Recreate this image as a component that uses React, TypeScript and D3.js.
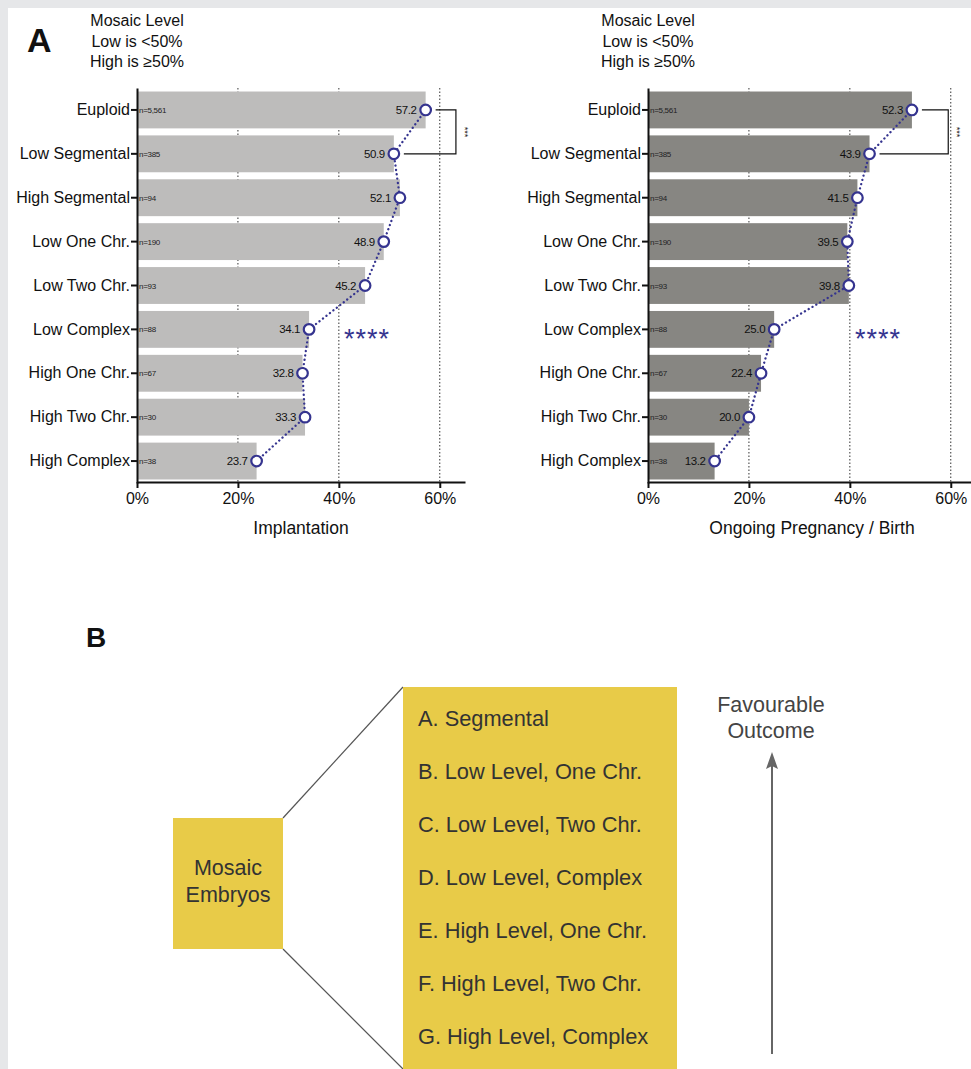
import React from "react";
import { axisBottom, axisLeft, line, scaleBand, scaleLinear, scalePoint, select } from "d3";

const categories = [
	"Euploid",
	"Low Segmental",
	"High Segmental",
	"Low One Chr.",
	"Low Two Chr.",
	"Low Complex",
	"High One Chr.",
	"High Two Chr.",
	"High Complex"
];
const sampleSizes = ["n=5,561", "n=385", "n=94", "n=190", "n=93", "n=88", "n=67", "n=30", "n=38"];
const implantation = [57.2, 50.9, 52.1, 48.9, 45.2, 34.1, 32.8, 33.3, 23.7];
const ongoingPregnancy = [52.3, 43.9, 41.5, 39.5, 39.8, 25.0, 22.4, 20.0, 13.2];
const percentTicks = [0, 20, 40, 60];
const headerLines = ["Mosaic Level", "Low is <50%", "High is \u226550%"];
const outcomeLevels = [
	"A. Segmental",
	"B. Low Level, One Chr.",
	"C. Low Level, Two Chr.",
	"D. Low Level, Complex",
	"E. High Level, One Chr.",
	"F. High Level, Two Chr.",
	"G. High Level, Complex"
];
const embryoLines = ["Mosaic", "Embryos"];
const favourLines = ["Favourable", "Outcome"];

const FONT = "'Liberation Sans', Arial, Helvetica, sans-serif";
const BLUE = "#35348f";
const YELLOW = "#e8cb48";

class MosaicFigure extends React.Component {
	svgRef = React.createRef<SVGSVGElement>();
	width = 971;
	height = 1069;

	componentDidMount() {
		this.drawChart();
	}

	drawPanel(svg: any, values: number[], left: number, fill: string, title: string, bracketAt: number) {
		const x = scaleLinear().domain([0, 65]).range([left, left + 328]);
		const y = scaleBand<string>()
			.domain(categories)
			.range([88, 483])
			.paddingInner(0.16)
			.paddingOuter(0.08);
		const cy = (c: string) => (y(c) as number) + y.bandwidth() / 2;
		const g = svg.append("g").attr("font-family", FONT);

		//header
		g.append("text")
			.attr("x", left)
			.attr("y", 26)
			.attr("text-anchor", "middle")
			.attr("font-size", 16)
			.attr("fill", "#111")
			.selectAll("tspan")
			.data(headerLines)
			.join("tspan")
			.attr("x", left)
			.attr("dy", (d: string, i: number) => (i === 0 ? 0 : 20.5))
			.text((d: string) => d);

		//dotted grid
		g.selectAll(".grid")
			.data(percentTicks.slice(1))
			.join("line")
			.attr("x1", (d: number) => x(d))
			.attr("x2", (d: number) => x(d))
			.attr("y1", 88)
			.attr("y2", 482)
			.attr("stroke", "#333")
			.attr("stroke-width", 1)
			.attr("stroke-dasharray", "1.5,2");

		//bars
		g.selectAll(".bar")
			.data(values)
			.join("rect")
			.attr("x", x(0))
			.attr("y", (d: number, i: number) => y(categories[i]))
			.attr("width", (d: number) => x(d) - x(0))
			.attr("height", y.bandwidth())
			.attr("fill", fill);

		g.selectAll(".n")
			.data(sampleSizes)
			.join("text")
			.attr("x", x(0) + 2)
			.attr("y", (d: string, i: number) => cy(categories[i]) + 3)
			.attr("font-size", 8)
			.attr("letter-spacing", -0.3)
			.attr("fill", "#222")
			.text((d: string) => d);

		//trend line
		const trend = line<number>()
			.x((d) => x(d))
			.y((d, i) => cy(categories[i]));
		g.append("path")
			.attr("d", trend(values))
			.attr("fill", "none")
			.attr("stroke", BLUE)
			.attr("stroke-width", 2.3)
			.attr("stroke-linecap", "round")
			.attr("stroke-dasharray", "0.1,4.3");

		g.selectAll(".val")
			.data(values)
			.join("text")
			.attr("x", (d: number) => x(d) - 9)
			.attr("y", (d: number, i: number) => cy(categories[i]) + 4)
			.attr("text-anchor", "end")
			.attr("font-size", 11.5)
			.attr("letter-spacing", -0.4)
			.attr("fill", "#111")
			.text((d: number) => d.toFixed(1));

		g.selectAll(".pt")
			.data(values)
			.join("circle")
			.attr("cx", (d: number) => x(d))
			.attr("cy", (d: number, i: number) => cy(categories[i]))
			.attr("r", 5.3)
			.attr("fill", "#fff")
			.attr("stroke", BLUE)
			.attr("stroke-width", 2.2);

		//Axes
		const yAxis = g
			.append("g")
			.attr("transform", `translate(${x(0)},0)`)
			.call(axisLeft(y).tickSize(6).tickSizeOuter(0).tickPadding(1));
		const xAxis = g
			.append("g")
			.attr("transform", `translate(0,482)`)
			.call(
				axisBottom(x)
					.tickValues(percentTicks)
					.tickFormat((d: any) => d + "%")
					.tickSize(6)
					.tickSizeOuter(0)
					.tickPadding(5)
			);
		[xAxis, yAxis].forEach((a: any) => {
			a.select(".domain").attr("stroke", "#111").attr("stroke-width", 2);
			a.selectAll(".tick line").attr("stroke", "#111").attr("stroke-width", 2);
			a.selectAll(".tick text")
				.attr("font-family", FONT)
				.attr("font-size", 16)
				.attr("fill", "#111");
		});

		g.append("text")
			.attr("x", x(32.5))
			.attr("y", 534)
			.attr("text-anchor", "middle")
			.attr("font-size", 17.5)
			.attr("fill", "#111")
			.text(title);

		//significance
		g.append("text")
			.attr("x", x(41))
			.attr("y", cy("Low Complex") + 19)
			.attr("font-size", 27)
			.attr("letter-spacing", 1)
			.attr("fill", BLUE)
			.text("****");

		const top = cy(categories[0]);
		const bottom = cy(categories[1]);
		g.append("path")
			.attr(
				"d",
				`M${x(values[0]) + 10},${top}H${x(bracketAt)}V${bottom}H${x(values[1]) + 10}`
			)
			.attr("fill", "none")
			.attr("stroke", "#111")
			.attr("stroke-width", 1.2);
		g.append("text")
			.attr("transform", `translate(${x(bracketAt) + 6},${(top + bottom) / 2}) rotate(90)`)
			.attr("text-anchor", "middle")
			.attr("font-size", 9)
			.attr("fill", "#111")
			.text("***");
	}

	drawSchema(svg: any) {
		const g = svg.append("g").attr("font-family", FONT);
		const small = { x: 173, y: 818, w: 110, h: 131 };
		const big = { x: 403, y: 687, w: 274, h: 382 };

		g.append("line")
			.attr("x1", small.x + small.w)
			.attr("y1", small.y)
			.attr("x2", big.x)
			.attr("y2", big.y)
			.attr("stroke", "#555")
			.attr("stroke-width", 1.2);
		g.append("line")
			.attr("x1", small.x + small.w)
			.attr("y1", small.y + small.h)
			.attr("x2", big.x)
			.attr("y2", big.y + big.h)
			.attr("stroke", "#555")
			.attr("stroke-width", 1.2);

		g.append("rect")
			.attr("x", small.x)
			.attr("y", small.y)
			.attr("width", small.w)
			.attr("height", small.h)
			.attr("fill", YELLOW);
		g.append("rect")
			.attr("x", big.x)
			.attr("y", big.y)
			.attr("width", big.w)
			.attr("height", big.h)
			.attr("fill", YELLOW);

		g.selectAll(".emb")
			.data(embryoLines)
			.join("text")
			.attr("x", small.x + small.w / 2)
			.attr("y", (d: string, i: number) => 875 + i * 27)
			.attr("text-anchor", "middle")
			.attr("font-size", 21.5)
			.attr("fill", "#333")
			.text((d: string) => d);

		const rows = scalePoint<string>().domain(outcomeLevels).range([718, 1036]);
		g.selectAll(".lvl")
			.data(outcomeLevels)
			.join("text")
			.attr("x", 418)
			.attr("y", (d: string) => (rows(d) as number) + 7.5)
			.attr("font-size", 21.8)
			.attr("fill", "#333")
			.text((d: string) => d);

		g.selectAll(".fav")
			.data(favourLines)
			.join("text")
			.attr("x", 771)
			.attr("y", (d: string, i: number) => 712 + i * 26)
			.attr("text-anchor", "middle")
			.attr("font-size", 21.5)
			.attr("fill", "#444")
			.text((d: string) => d);

		g.append("line")
			.attr("x1", 772)
			.attr("x2", 772)
			.attr("y1", 1054)
			.attr("y2", 764)
			.attr("stroke", "#666")
			.attr("stroke-width", 2);
		g.append("path")
			.attr("d", "M772,752L778,769L772,766L766,769Z")
			.attr("fill", "#666");
	}

	drawChart() {
		const svg = select(this.svgRef.current);
		svg.selectAll("*").remove();

		svg.append("rect").attr("width", this.width).attr("height", this.height).attr("fill", "#e6e7e9");
		svg.append("rect")
			.attr("x", 8)
			.attr("y", 8)
			.attr("width", this.width - 8)
			.attr("height", this.height - 8)
			.attr("fill", "#fff");

		svg.append("text")
			.attr("x", 27)
			.attr("y", 52)
			.attr("font-family", FONT)
			.attr("font-weight", "bold")
			.attr("font-size", 34)
			.attr("fill", "#111")
			.text("A");
		svg.append("text")
			.attr("x", 86)
			.attr("y", 647)
			.attr("font-family", FONT)
			.attr("font-weight", "bold")
			.attr("font-size", 28)
			.attr("fill", "#111")
			.text("B");

		this.drawPanel(svg, implantation, 137, "#bdbcbb", "Implantation", 63.2);
		this.drawPanel(svg, ongoingPregnancy, 648, "#878682", "Ongoing Pregnancy / Birth", 59.5);
		this.drawSchema(svg);
	}

	render() {
		return (
			<div style={{ position: "absolute", left: 0, top: 0 }}>
				<svg ref={this.svgRef} width={this.width} height={this.height} style={{ display: "block" }} />
			</div>
		);
	}
}

export default function App() {
	return <MosaicFigure />;
}
